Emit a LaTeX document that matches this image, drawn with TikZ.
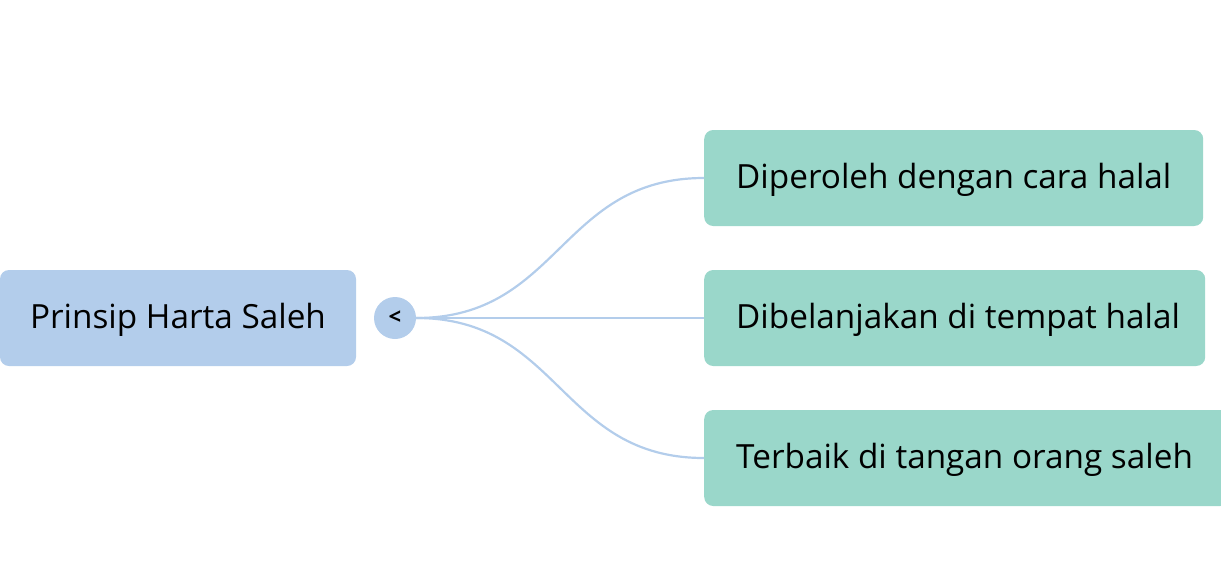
\documentclass[tikz,border=0pt]{standalone}
\usepackage{fontspec}
\setmainfont{Open Sans}
\definecolor{rootfill}{HTML}{B3CDEB}
\definecolor{childfill}{HTML}{9AD7CA}
\definecolor{linkcol}{HTML}{B3CDEB}
\newcommand{\fixw}[2]{\makebox[#1][l]{#2}}
\begin{document}
\begin{tikzpicture}[x=1pt,y=-1pt,
  label font/.style={font=\fontsize{33.3}{38}\selectfont,text=black,text height=21pt,text depth=0pt},
  rootbox/.style={label font,fill=rootfill,rounded corners=9pt,inner sep=0pt,minimum width=356pt,minimum height=96pt},
  childbox/.style={label font,fill=childfill,rounded corners=9pt,inner xsep=32pt,inner ysep=0pt,minimum height=96pt,anchor=west},
  toggle/.style={circle,fill=rootfill,minimum size=42pt,inner sep=0pt,font=\fontsize{22}{24}\selectfont\bfseries},
  link/.style={draw=linkcol,line width=2.2pt}]
\useasboundingbox (0,0) rectangle (1221,568);
\node[rootbox] (root) at (178,318) {Prinsip Harta Saleh};
\node[toggle] (tog) at (395,318) {<};
\node[childbox] (c1) at (704,178) {\fixw{435pt}{Diperoleh dengan cara halal}};
\node[childbox] (c2) at (704,318) {\fixw{437pt}{Dibelanjakan di tempat halal}};
\node[childbox] (c3) at (704,458) {\fixw{461pt}{Terbaik di tangan orang saleh}};
\draw[link] (tog.east) .. controls (560,318) and (560,178) .. (c1.west);
\draw[link] (tog.east) -- (c2.west);
\draw[link] (tog.east) .. controls (560,318) and (560,458) .. (c3.west);
\end{tikzpicture}
\end{document}
